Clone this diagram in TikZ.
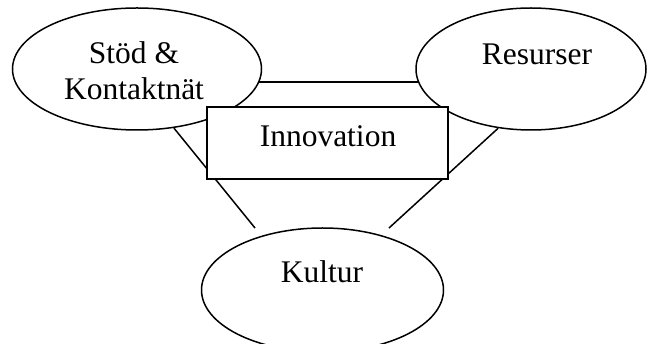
\documentclass[tikz,border=0pt]{standalone}
\usepackage{fontspec}
\setmainfont{Liberation Serif}
\usetikzlibrary{shapes.geometric}
\begin{document}
\begin{tikzpicture}[x=1pt,y=-1pt,
  every node/.style={font=\fontsize{31.5}{36}\selectfont},
  oval/.style={draw, line width=1.5pt, ellipse, fill=white, inner sep=0pt},
  box/.style={draw, line width=1.5pt, rectangle, fill=white, inner sep=0pt},
  conn/.style={line width=1.5pt},
  lbl/.style={inner sep=0pt}]
\useasboundingbox (0,0) rectangle (648,344);
\clip (0,0) rectangle (648,344);
% shapes
\node[oval, minimum width=249, minimum height=122] (stod) at (137,69) {};
\node[oval, minimum width=230, minimum height=122] (res) at (531,69) {};
\node[oval, minimum width=242, minimum height=124] (kul) at (322.5,290) {};
% free ends of connectors near Kultur
\coordinate (kl) at (255,228);
\coordinate (kr) at (389,228);
% connectors
\draw[conn] (stod.-6) -- (stod.-6 -| res.-173.4);
\draw[conn] (stod.-58.3) -- (kl);
\draw[conn] (res.-119.5) -- (kr);
% innovation box on top
\node[box, minimum width=241, minimum height=72] (inn) at (327.5,143) {};
% texts
\node[lbl, align=center] (tstod) at (134,71) {Stöd \&\\Kontaktnät};
\node[lbl, anchor=base] (tres) at (537,65) {Resurser};
\node[lbl, anchor=base] (tinn) at (328,147) {Innovation};
\node[lbl, anchor=base] (tkul) at (322,283) {Kultur};
\end{tikzpicture}
\end{document}
